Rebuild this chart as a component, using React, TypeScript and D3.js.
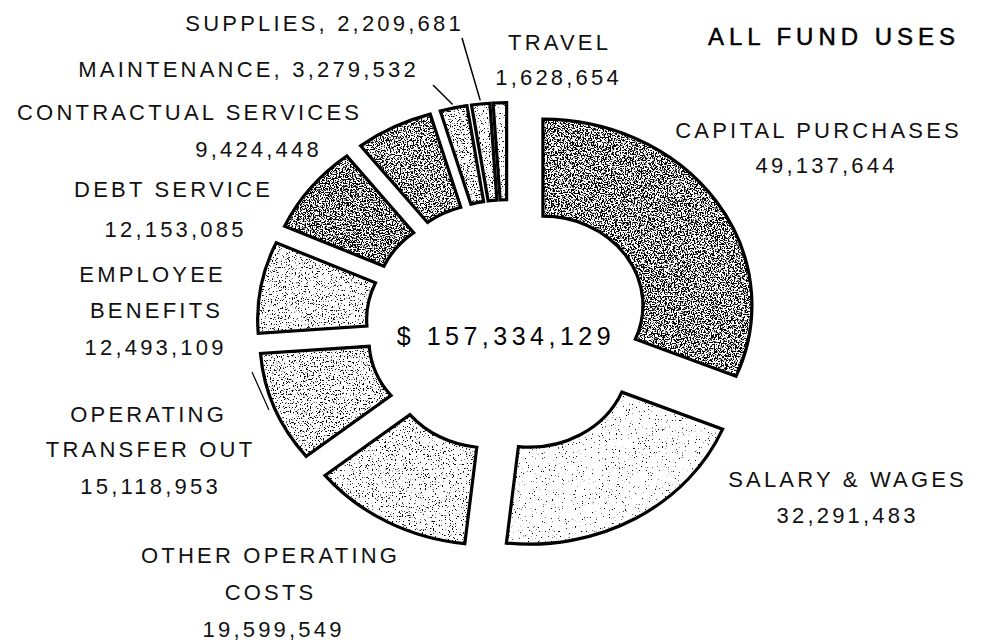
import React from "react";
import * as d3 from "d3";

const categories = [
  "CAPITAL PURCHASES",
  "SALARY & WAGES",
  "OTHER OPERATING COSTS",
  "OPERATING TRANSFER OUT",
  "EMPLOYEE BENEFITS",
  "DEBT SERVICE",
  "CONTRACTUAL SERVICES",
  "MAINTENANCE",
  "SUPPLIES",
  "TRAVEL",
];
const values = [49137644, 32291483, 19599549, 15118953, 12493109, 12153085, 9424448, 3279532, 2209681, 1628654];
const totalLabel = "$ 157,334,129";
const title = "ALL FUND USES";

// how each label's name is broken into lines
const nameLines: string[][] = [
  ["CAPITAL PURCHASES"],
  ["SALARY & WAGES"],
  ["OTHER OPERATING", "COSTS"],
  ["OPERATING", "TRANSFER OUT"],
  ["EMPLOYEE", "BENEFITS"],
  ["DEBT SERVICE"],
  ["CONTRACTUAL SERVICES"],
  ["MAINTENANCE"],
  ["SUPPLIES"],
  ["TRAVEL"],
];
const inlineValue = [false, false, false, false, false, false, false, true, true, false];

// layout: per-line [centerX, baselineY]
const labelPos: [number, number][][] = [
  [[817, 138], [825, 173]],
  [[846, 487], [846, 523]],
  [[269, 563], [269, 600], [272, 637]],
  [[147, 422], [149, 457], [149, 494]],
  [[151, 282], [155, 318], [154, 355]],
  [[172, 197], [174, 237]],
  [[188, 120], [257, 157]],
  [[247, 77]],
  [[323, 31]],
  [[558, 50], [557, 85]],
];
// share of black specks in each slice's dithered fill
const dotDensity = [0.58, 0.03, 0.1, 0.18, 0.15, 0.6, 0.52, 0.22, 0.12, 0.08];

const W = 982;
const H = 642;
const cx = 508;
const cy = 326;
const R = 209;
const r0 = 100;
const explode = 42;
const ky = 0.89;

const fmt = d3.format(",");

// inverse of the standard normal CDF (Acklam's approximation)
function probit(p: number): number {
  const a = [-39.69683028665376, 220.9460984245205, -275.9285104469687, 138.357751867269, -30.66479806614716, 2.506628274631];
  const b = [-54.47609879822406, 161.5858368580409, -155.6989798598866, 66.80131188771972, -13.28068155288572];
  const c = [-0.007784894002430293, -0.3223964580411365, -2.400758277161838, -2.549732539343734, 4.374664141464968, 2.938163982698783];
  const dd = [0.007784695709041462, 0.3224671290700398, 2.445134137142996, 3.754408661907416];
  const pl = 0.02425;
  if (p < pl) {
    const q = Math.sqrt(-2 * Math.log(p));
    return (((((c[0] * q + c[1]) * q + c[2]) * q + c[3]) * q + c[4]) * q + c[5]) / ((((dd[0] * q + dd[1]) * q + dd[2]) * q + dd[3]) * q + 1);
  }
  if (p > 1 - pl) {
    const q = Math.sqrt(-2 * Math.log(1 - p));
    return -(((((c[0] * q + c[1]) * q + c[2]) * q + c[3]) * q + c[4]) * q + c[5]) / ((((dd[0] * q + dd[1]) * q + dd[2]) * q + dd[3]) * q + 1);
  }
  const q = p - 0.5;
  const rr = q * q;
  return ((((((a[0] * rr + a[1]) * rr + a[2]) * rr + a[3]) * rr + a[4]) * rr + a[5]) * q) / (((((b[0] * rr + b[1]) * rr + b[2]) * rr + b[3]) * rr + b[4]) * rr + 1);
}

export default function App() {
  const pie = d3.pie<number>().value((d) => d).sort(null);
  const arcs = pie(values);
  const arc = d3.arc<d3.PieArcDatum<number>>().innerRadius(r0).outerRadius(R);

  const off = (d: d3.PieArcDatum<number>) => {
    const m = (d.startAngle + d.endAngle) / 2;
    return [Math.sin(m) * explode, -Math.cos(m) * explode];
  };
  const outerPt = (d: d3.PieArcDatum<number>, rr: number) => {
    const m = (d.startAngle + d.endAngle) / 2;
    const [ox, oy] = off(d);
    return [cx + Math.sin(m) * rr + ox, cy + (-Math.cos(m) * rr + oy) * ky];
  };

  const textStyle: React.CSSProperties = {
    fontFamily: "'Liberation Sans', Arial, sans-serif",
    fontSize: 22,
    letterSpacing: 3.2,
  };

  const labels = categories.map((c, i) => {
    const lines = inlineValue[i]
      ? [`${nameLines[i][0]}, ${fmt(values[i])}`]
      : [...nameLines[i], fmt(values[i])];
    return lines.map((t, j) => {
      const [x, y] = labelPos[i][j];
      return (
        <text key={`${i}-${j}`} x={x + 1.6} y={y} textAnchor="middle" fill="#111" style={textStyle}>
          {t}
        </text>
      );
    });
  });

  const maint = outerPt(arcs[7], R + 4);
  const supp = outerPt(arcs[8], R + 4);
  const ot = outerPt(arcs[3], R + 6);

  // threshold on fractal noise (roughly N(0.5, 0.1)) giving the requested density
  const thresh = (p: number) => 0.5 + 0.1 * probit(1 - p);

  return (
    <svg width={W} height={H} style={{ position: "absolute", left: 0, top: 0, background: "#fff" }}>
      <defs>
        {dotDensity.map((p, i) => {
          const t = thresh(p);
          const slope = 14;
          return (
            <filter key={i} id={`dither${i}`} x="-10%" y="-10%" width="120%" height="120%" colorInterpolationFilters="sRGB">
              <feTurbulence type="fractalNoise" baseFrequency="0.7" numOctaves={2} seed={i * 7 + 3} result="noise" />
              <feColorMatrix in="noise" type="matrix" values="0 0 0 0 0  0 0 0 0 0  0 0 0 0 0  1 0 0 0 0" result="na" />
              <feComponentTransfer in="na" result="dots">
                <feFuncA type="linear" slope={slope} intercept={-slope * t} />
              </feComponentTransfer>
              <feFlood floodColor="#ffffff" result="white" />
              <feMerge result="m">
                <feMergeNode in="white" />
                <feMergeNode in="dots" />
              </feMerge>
              <feComposite in="m" in2="SourceAlpha" operator="in" />
            </filter>
          );
        })}
      </defs>
      <g transform={`translate(${cx},${cy}) scale(1,${ky})`}>
        {arcs.map((d, i) => {
          const [ox, oy] = off(d);
          return (
            <g key={i} transform={`translate(${ox},${oy})`}>
              <path d={arc(d) || ""} fill="#000" filter={`url(#dither${i})`} />
              <path
                d={arc(d) || ""}
                fill="none"
                stroke="#000"
                strokeWidth={3.2}
                strokeLinejoin="miter"
                vectorEffect="non-scaling-stroke"
              />
            </g>
          );
        })}
      </g>
      <line x1={433} y1={85} x2={maint[0]} y2={maint[1]} stroke="#000" strokeWidth={1.5} />
      <line x1={462} y1={38} x2={supp[0]} y2={supp[1]} stroke="#000" strokeWidth={1.5} />
      <line x1={252} y1={372} x2={ot[0]} y2={ot[1]} stroke="#000" strokeWidth={1.2} />
      {labels}
      <text x={834} y={45} textAnchor="middle" fill="#000" stroke="#000" strokeWidth={0.5}
        style={{ fontFamily: "'Liberation Sans', Arial, sans-serif", fontSize: 24, letterSpacing: 5 }}>
        {title}
      </text>
      <text x={506} y={345} textAnchor="middle" fill="#000"
        style={{ fontFamily: "'Liberation Sans', Arial, sans-serif", fontSize: 25, letterSpacing: 4.5 }}>
        {totalLabel}
      </text>
    </svg>
  );
}
